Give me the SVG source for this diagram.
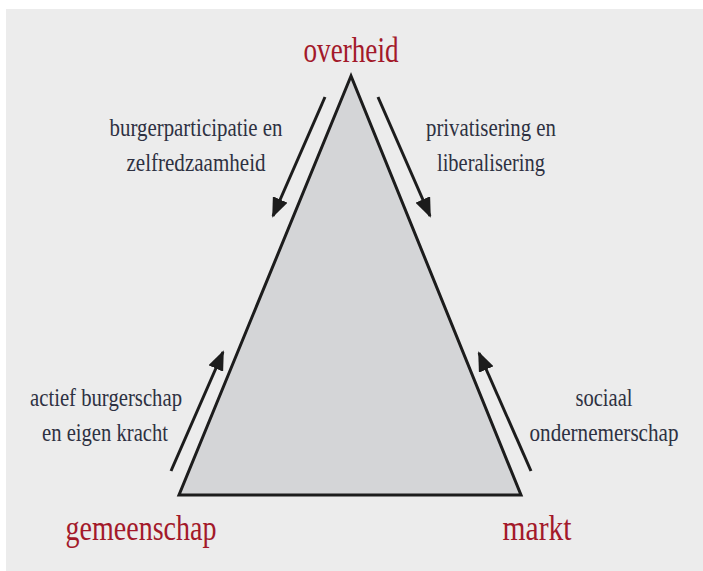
<svg xmlns="http://www.w3.org/2000/svg" width="703" height="571" viewBox="0 0 703 571">
  <style>
    .label { font-family: "Liberation Serif", "DejaVu Serif", serif; font-size: 25px; fill: #2e3142; text-anchor: middle; }
    .pole { font-family: "Liberation Serif", "DejaVu Serif", serif; font-size: 35px; fill: #a3192a; text-anchor: middle; }
    .flow { stroke: #1c1c1c; stroke-width: 3; fill: none; marker-end: url(#head); }
  </style>
  <defs>
    <marker id="head" viewBox="0 0 20 16" refX="18" refY="8" markerWidth="20" markerHeight="16" markerUnits="userSpaceOnUse" orient="auto">
      <path d="M0,0 L20,8 L0,16 Z" fill="#1c1c1c"/>
    </marker>
  </defs>

  <!-- background panel -->
  <rect x="0" y="0" width="703" height="571" fill="#ffffff"/>
  <rect x="6" y="9" width="697" height="562" fill="#ececec"/>

  <!-- central triangle -->
  <g id="triangle">
    <polygon points="351,76 179,495 521,495" fill="#d4d5d7" stroke="#1c1c1c" stroke-width="3" stroke-linejoin="miter"/>
  </g>

  <!-- connectors -->
  <g id="connectors">
    <line class="flow" x1="325" y1="97" x2="273" y2="216"/>
    <line class="flow" x1="378" y1="97" x2="430" y2="216"/>
    <line class="flow" x1="171" y1="471" x2="223" y2="352"/>
    <line class="flow" x1="531" y1="471" x2="479" y2="353"/>
  </g>

  <!-- corner nodes -->
  <g id="overheid">
    <text class="pole" x="351" y="62" textLength="95" lengthAdjust="spacingAndGlyphs">overheid</text>
  </g>
  <g id="gemeenschap">
    <text class="pole" x="141" y="540" textLength="151" lengthAdjust="spacingAndGlyphs">gemeenschap</text>
  </g>
  <g id="markt">
    <text class="pole" x="537" y="540" textLength="69" lengthAdjust="spacingAndGlyphs">markt</text>
  </g>

  <!-- side labels -->
  <g id="label-burgerparticipatie">
    <text class="label" x="196" y="136" textLength="173" lengthAdjust="spacingAndGlyphs">burgerparticipatie en</text>
    <text class="label" x="196" y="171" textLength="139" lengthAdjust="spacingAndGlyphs">zelfredzaamheid</text>
  </g>
  <g id="label-privatisering">
    <text class="label" x="491" y="136" textLength="130" lengthAdjust="spacingAndGlyphs">privatisering en</text>
    <text class="label" x="491" y="171" textLength="108" lengthAdjust="spacingAndGlyphs">liberalisering</text>
  </g>
  <g id="label-actief">
    <text class="label" x="106" y="406" textLength="152" lengthAdjust="spacingAndGlyphs">actief burgerschap</text>
    <text class="label" x="105" y="441" textLength="126" lengthAdjust="spacingAndGlyphs">en eigen kracht</text>
  </g>
  <g id="label-sociaal">
    <text class="label" x="604" y="406" textLength="57" lengthAdjust="spacingAndGlyphs">sociaal</text>
    <text class="label" x="604" y="441" textLength="149" lengthAdjust="spacingAndGlyphs">ondernemerschap</text>
  </g>
</svg>
